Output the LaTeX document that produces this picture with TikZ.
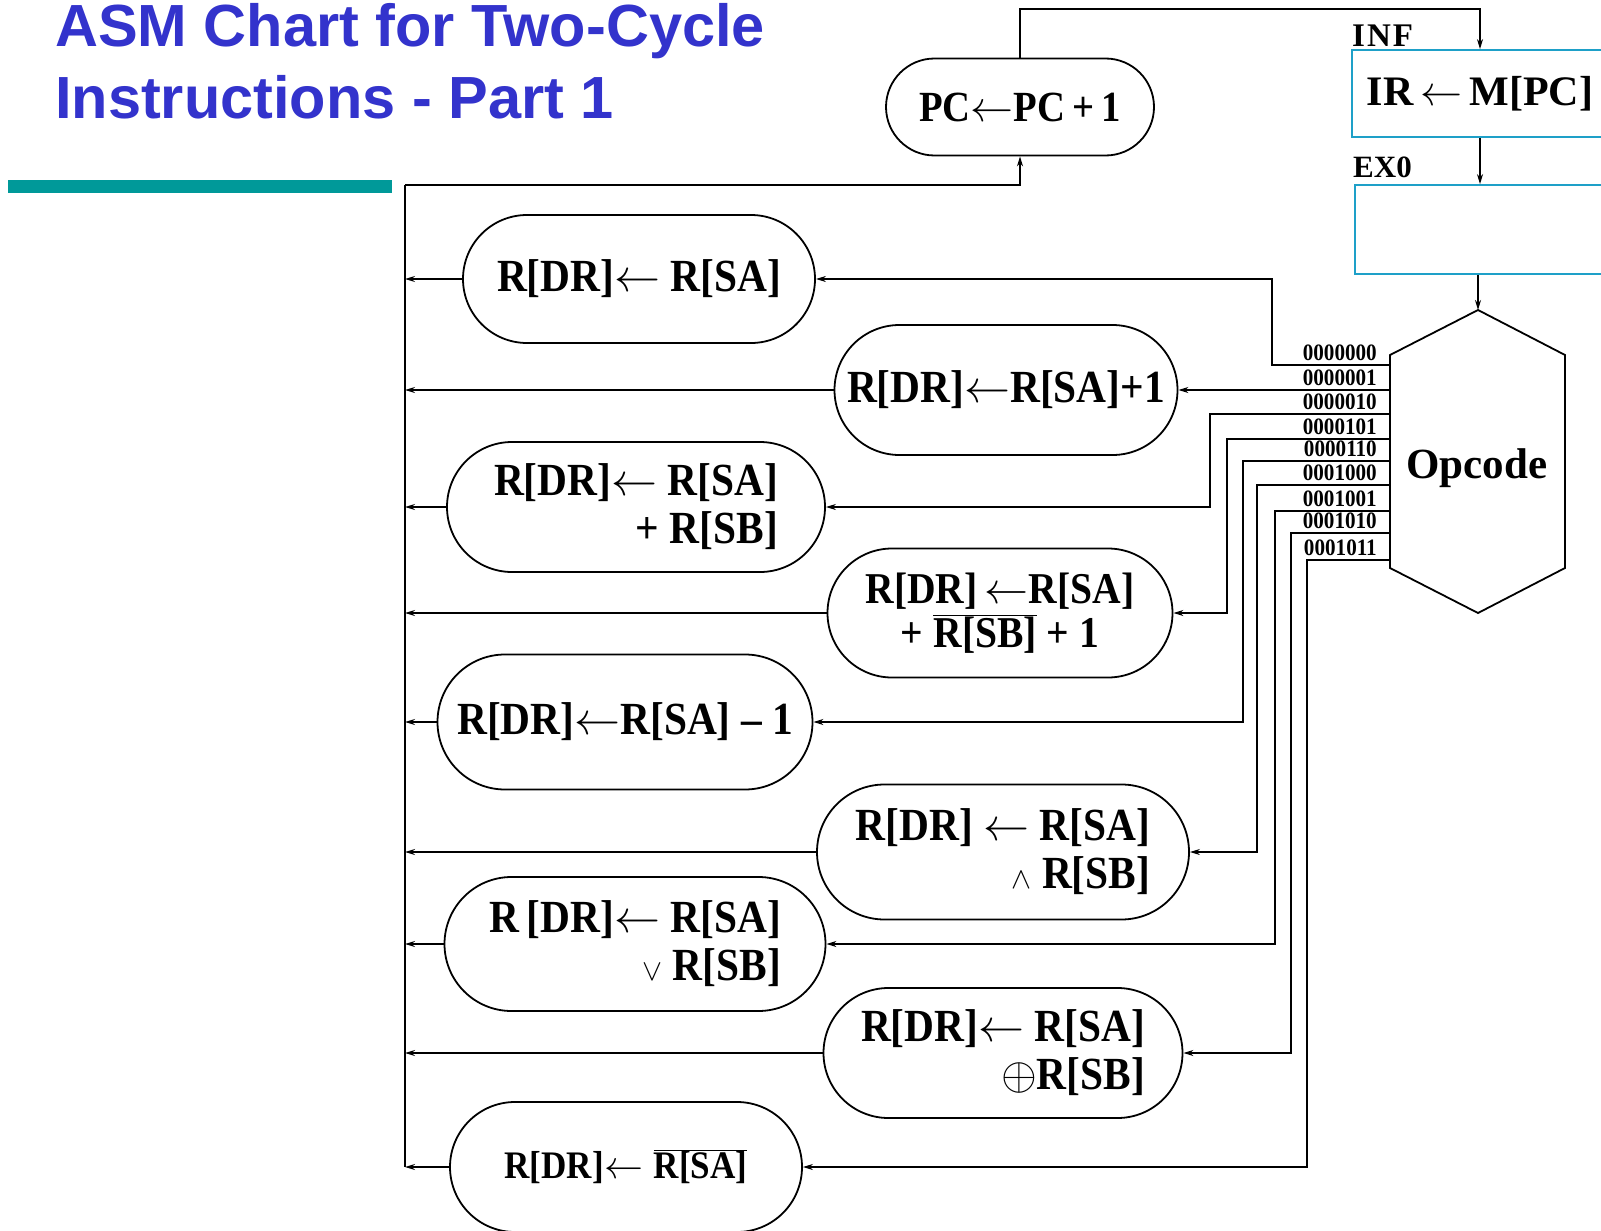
\RequirePackage{fix-cm}
\documentclass[tikz,border=0pt]{standalone}
\usepackage{fontspec}
\setmainfont{Liberation Serif}
\newfontfamily\boxfont[FakeStretch=0.9,Ligatures=TeX]{Liberation Serif}
\newfontfamily\titlefont{Liberation Sans}
\usetikzlibrary{shapes.misc,arrows.meta}
\definecolor{titleblue}{RGB}{51,51,204}
\definecolor{tealbar}{RGB}{0,153,153}
\definecolor{cyanbox}{RGB}{30,160,200}
\begin{document}
\begin{tikzpicture}[x=1pt,y=-1pt,
  stad/.style={draw,line width=1.8pt,rounded rectangle,inner sep=0pt,
    font=\boxfont\fontsize{46}{48}\selectfont\bfseries},
  statebox/.style={draw=cyanbox,line width=1.8pt,rectangle,inner sep=0pt},
  wire/.style={line width=1.4pt,-{Stealth[length=10pt,width=6pt]}},
  plain/.style={line width=1.4pt},
  code/.style={anchor=base east,inner sep=0pt,font=\boxfont\fontsize{23.5}{23.5}\selectfont\bfseries},
  ttl/.style={anchor=base west,inner sep=0pt,text=titleblue,font=\titlefont\fontsize{59.5}{73}\selectfont\bfseries}]
\useasboundingbox (0,0) rectangle (1601,1231);

% title
\node[ttl] (t1) at (55,47) {ASM Chart for Two-Cycle};
\node[ttl] (t2) at (55,118) {Instructions - Part 1};
\fill[tealbar] (8,180) rectangle (392,193);

% state boxes
\node[statebox,minimum width=256pt,minimum height=87pt,font=\fontsize{42}{42}\selectfont\bfseries] (ir) at (1480,93.5) {IR$\,\leftarrow\,$M[PC]};
\node[statebox,minimum width=248pt,minimum height=89pt] (ex) at (1479,229.5) {};
\node[anchor=base west,inner sep=0pt,font=\fontsize{33}{33}\selectfont\bfseries] (inf) at (1352,47) {I\kern2pt N\kern2pt F};
\node[anchor=base west,inner sep=0pt,font=\fontsize{31}{31}\selectfont\bfseries] (exl) at (1353,177) {EX0};

% hexagon
\coordinate (htop) at (1478,310);
\draw[line width=1.8pt] (htop) -- (1565,355) -- (1565,568) -- (1478,613) -- (1390,568) -- (1390,355) -- cycle;
\node[anchor=base,inner sep=0pt,font=\fontsize{43}{43}\selectfont\bfseries] (op) at (1477,478) {Opcode};

% PC box
\node[stad,minimum width=268pt,minimum height=97pt,font=\boxfont\fontsize{43}{48}\selectfont\bfseries] (pc) at (1020,107) {PC$\leftarrow$PC\,+\,1};

% register transfer boxes
\node[stad,minimum width=352pt,minimum height=128pt] (b1) at (639,279) {R[DR]$\leftarrow$ R[SA]};
\node[stad,minimum width=343pt,minimum height=130pt] (b2) at (1006,390) {R[DR]$\leftarrow$R[SA]+1};
\node[stad,minimum width=378pt,minimum height=130pt,align=right] (b3) at (636,507) {R[DR]$\leftarrow$ R[SA]\\+ R[SB]};
\node[stad,minimum width=345pt,minimum height=129pt,align=center,font=\boxfont\fontsize{44}{44}\selectfont\bfseries] (b4) at (1000,613) {R[DR]$\,\leftarrow$R[SA]\\+ $\overline{\mbox{R[SB]}}$ + 1};
\node[stad,minimum width=375pt,minimum height=135pt] (b5) at (625,722) {R[DR]$\leftarrow$R[SA] – 1};
\node[stad,minimum width=372pt,minimum height=135pt,align=right] (b6) at (1003,852) {R[DR] $\leftarrow$ R[SA]\\{\fontsize{30}{30}\selectfont$\wedge$} R[SB]};
\node[stad,minimum width=381pt,minimum height=134pt,align=right] (b7) at (635,944) {R\,[DR]$\leftarrow$ R[SA]\\{\fontsize{30}{30}\selectfont$\vee$} R[SB]};
\node[stad,minimum width=359pt,minimum height=130pt,align=right] (b8) at (1003,1053) {R[DR]$\leftarrow$ R[SA]\\$\oplus$R[SB]};
\node[stad,minimum width=352pt,minimum height=130pt,font=\boxfont\fontsize{39}{40}\selectfont\bfseries] (b9) at (626,1167) {R[DR]$\leftarrow\overline{\mbox{R[SA]}}$};

% opcode outputs
\coordinate (w0) at (1390,365);
\coordinate (w1) at (1390,390);
\coordinate (w2) at (1390,414);
\coordinate (w3) at (1390,439);
\coordinate (w4) at (1390,461);
\coordinate (w5) at (1390,485);
\coordinate (w6) at (1390,511);
\coordinate (w7) at (1390,533);
\coordinate (w8) at (1390,560);
\node[code] (c0) at (1377,360) {0000000};
\node[code] (c1) at (1377,385) {0000001};
\node[code] (c2) at (1377,409) {0000010};
\node[code] (c3) at (1377,434) {0000101};
\node[code] (c4) at (1377,456) {0000110};
\node[code] (c5) at (1377,480) {0001000};
\node[code] (c6) at (1377,506) {0001001};
\node[code] (c7) at (1377,528) {0001010};
\node[code] (c8) at (1377,555) {0001011};

\draw[wire] (w0) -- ++(-118,0) |- (b1.east);
\draw[wire] (w1) -- (w1 -| b2.east);
\draw[wire] (w2) -- ++(-180,0) |- (b3.east);
\draw[wire] (w3) -- ++(-163,0) |- (b4.east);
\draw[wire] (w4) -- ++(-147,0) |- (b5.east);
\draw[wire] (w5) -- ++(-133,0) |- (b6.east);
\draw[wire] (w6) -- ++(-115,0) |- (b7.east);
\draw[wire] (w7) -- ++(-99,0) |- (b8.east);
\draw[wire] (w8) -- ++(-83,0) |- (b9.east);

% left return bus
\coordinate (lb0) at (405,185);
\coordinate (lb9) at (405,1167);
\draw[plain] (lb0) -- (lb9);
\foreach \b in {b1,b2,b3,b4,b5,b6,b7,b8,b9}{
  \draw[wire] (\b.west) -- (\b.west -| lb0);
}
\draw[wire] (lb0) -| (pc.south);

% top loop
\coordinate (toprow) at (1000,9);
\draw[wire] (pc.north) -- (pc.north |- toprow) -- (ir.north |- toprow) -- (ir.north);
\draw[wire] (ir.south) -- (ir.south |- ex.north);
\draw[wire] (ex.south -| htop) -- (htop);
\end{tikzpicture}
\end{document}
